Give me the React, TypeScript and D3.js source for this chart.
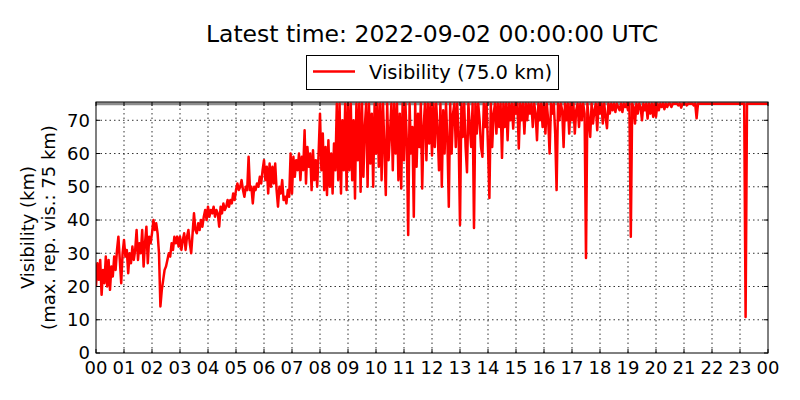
import { useEffect, useRef } from 'react';
import * as d3 from 'd3';

const titleText = 'Latest time: 2022-09-02 00:00:00 UTC';
const legendText = 'Visibility (75.0 km)';
const yLabelLines = ['Visibility (km)', '(max. rep. vis.: 75 km)'];
const hourLabels = [
  '00', '01', '02', '03', '04', '05', '06', '07', '08', '09', '10', '11',
  '12', '13', '14', '15', '16', '17', '18', '19', '20', '21', '22', '23', '00',
];
const yTicks = [0, 10, 20, 30, 40, 50, 60, 70];
const maxVis = 75;
const stepHours = 0.05;

// one value every 3 minutes, one row per hour
const visibility = [
  20, 27, 22, 28, 17.5, 25, 21, 29, 20, 28, 19, 26, 23, 29, 25, 31, 35, 28, 21, 30,
  34, 29, 31, 24, 30, 27, 32, 28, 31, 37, 28, 33, 30, 37, 26, 33, 38, 27, 35, 33,
  36, 40, 37, 39, 36, 30, 14, 19, 22, 25, 26, 28, 30, 29, 33, 31, 35, 33, 35, 32,
  35, 31, 34, 36, 31, 35, 37, 33, 30, 36, 42, 37, 36, 39, 37, 40, 38, 41, 43, 40,
  44, 41, 43, 42, 44, 41, 43, 42, 38, 44, 42, 45, 43, 44, 46, 44, 46, 45, 48, 46,
  49, 51, 49, 50, 52, 49, 47, 50, 49, 59, 49, 50, 45, 50, 49, 51, 50, 53, 51, 55,
  58, 52, 56, 48, 57, 50, 56, 51, 57, 49, 44, 50, 48, 52, 46, 47, 45, 49, 47, 60,
  48, 59, 53, 58, 55, 60, 52, 59, 55, 67, 51, 62, 56, 60, 49, 61, 52, 58, 50, 60,
  72, 55, 66, 49, 62, 47.5, 64, 50, 60, 48, 63, 55, 75, 52, 75, 48, 70, 55, 75, 49,
  75, 55, 75, 52, 70, 46.5, 75, 58, 75, 48.5, 75, 53, 68, 75, 50, 75, 57, 72, 50, 75,
  60, 75, 56, 75, 52, 75, 62, 47.5, 75, 58, 66, 75, 55, 75, 60, 75, 52, 72, 49.5, 75,
  58, 75, 64, 35.5, 75, 60, 68, 41, 75, 56, 72, 62, 75, 49.5, 68, 75, 58, 75, 63, 75,
  59.4, 75, 62, 75, 67, 55, 75, 50, 73, 60, 75, 64, 44, 75, 60, 72, 75, 62, 75, 66,
  38.5, 75, 65, 75, 62, 54.4, 75, 68, 62, 75, 37.6, 75, 66, 75, 70, 62, 59, 75, 68, 75,
  62, 46.6, 75, 62, 72, 75, 66, 75, 68, 75, 58.7, 75, 68, 75, 64, 75, 70, 75, 67.5, 75,
  72, 75, 61.5, 75, 70, 75, 66, 75, 70, 75, 72, 75, 68, 75, 72, 64, 75, 70, 75, 68,
  75, 66, 75, 70, 60, 75, 72, 75, 66, 49, 75, 70, 75, 73, 62, 75, 70, 75, 66, 75,
  70, 75, 66, 73, 75, 68, 75, 70, 75, 72, 28.6, 75, 70, 65, 75, 69, 73, 75, 67, 75,
  72, 75, 69, 75, 71, 67.6, 75, 72, 75, 73, 75, 72.5, 75, 74, 73, 75, 72.5, 75, 74, 75,
  73, 75, 35, 75, 74, 69, 75, 72, 75, 74, 70, 75, 73, 75, 70.5, 75, 72, 75, 71, 75,
  71, 75, 73, 75, 74, 75, 73.3, 75, 74, 75, 75, 74, 75, 75, 75, 75, 74.5, 75, 73.8, 75,
  75, 75, 74.5, 75, 75, 75, 75, 74.5, 75, 70.6, 75, 75, 75, 75, 75, 75, 75, 75, 75, 75,
  75, 75, 75, 75, 75, 75, 75, 75, 75, 75, 75, 75, 75, 75, 75, 75, 75, 75, 75, 75,
  75, 75, 75, 75, 10.8, 75, 75, 75, 75, 75, 75, 75, 75, 75, 75, 75, 75, 75, 75, 75,
  75,
];

const VisibilityChart = () => {
  const chartRef = useRef<SVGSVGElement>(null);

  useEffect(() => {
    if (!chartRef.current) return;

    d3.select(chartRef.current).selectAll('*').remove();

    const width = 800;
    const height = 400;
    const margin = { top: 102, right: 32, bottom: 47, left: 96 };
    const font = '"DejaVu Sans", sans-serif';

    const svg = d3
      .select(chartRef.current)
      .attr('width', width)
      .attr('height', height)
      .style('font-family', font);

    svg.append('rect').attr('width', width).attr('height', height).attr('fill', '#fff');

    const x = d3
      .scaleLinear()
      .domain([0, hourLabels.length - 1])
      .range([margin.left, width - margin.right]);

    const y = d3
      .scaleLinear()
      .domain([0, 75.5])
      .range([height - margin.bottom, margin.top]);

    const [x0, x1] = x.range();
    const [y0, y1] = y.range();

    // Grid
    const grid = svg
      .append('g')
      .attr('stroke', '#333')
      .attr('stroke-width', 1)
      .attr('stroke-dasharray', '1.5,3');
    hourLabels.forEach((_, i) => {
      if (i === 0 || i === hourLabels.length - 1) return;
      grid.append('line').attr('x1', x(i)).attr('x2', x(i)).attr('y1', y0).attr('y2', y1);
    });
    yTicks.forEach((t) => {
      if (t === 0) return;
      grid.append('line').attr('x1', x0).attr('x2', x1).attr('y1', y(t)).attr('y2', y(t));
    });

    // Clip
    svg
      .append('clipPath')
      .attr('id', 'plot-clip')
      .append('rect')
      .attr('x', x0)
      .attr('y', y1)
      .attr('width', x1 - x0)
      .attr('height', y0 - y1);

    const plot = svg.append('g').attr('clip-path', 'url(#plot-clip)');

    // max reported visibility line
    plot
      .append('line')
      .attr('x1', x0)
      .attr('x2', x1)
      .attr('y1', y(maxVis))
      .attr('y2', y(maxVis))
      .attr('stroke', '#8c8c8c')
      .attr('stroke-width', 3);

    const line = d3
      .line<number>()
      .x((_, i) => x(i * stepHours))
      .y((d) => y(d));

    plot
      .append('path')
      .datum(visibility)
      .attr('fill', 'none')
      .attr('stroke', '#ff0000')
      .attr('stroke-width', 2.5)
      .attr('stroke-linejoin', 'round')
      .attr('d', line);

    // Frame
    svg
      .append('rect')
      .attr('x', x0)
      .attr('y', y1)
      .attr('width', x1 - x0)
      .attr('height', y0 - y1)
      .attr('fill', 'none')
      .attr('stroke', '#000')
      .attr('stroke-width', 1);

    // Ticks (inside, all sides)
    const ticks = svg.append('g').attr('stroke', '#000').attr('stroke-width', 1);
    hourLabels.forEach((_, i) => {
      ticks.append('line').attr('x1', x(i)).attr('x2', x(i)).attr('y1', y0).attr('y2', y0 - 4);
      ticks.append('line').attr('x1', x(i)).attr('x2', x(i)).attr('y1', y1).attr('y2', y1 + 4);
    });
    yTicks.forEach((t) => {
      ticks.append('line').attr('x1', x0).attr('x2', x0 + 4).attr('y1', y(t)).attr('y2', y(t));
      ticks.append('line').attr('x1', x1).attr('x2', x1 - 4).attr('y1', y(t)).attr('y2', y(t));
    });

    // Tick labels
    svg
      .append('g')
      .selectAll('text')
      .data(hourLabels)
      .join('text')
      .attr('x', (_, i) => x(i))
      .attr('y', y0 + 21)
      .attr('text-anchor', 'middle')
      .attr('font-size', 18)
      .text((d) => d);

    svg
      .append('g')
      .selectAll('text')
      .data(yTicks)
      .join('text')
      .attr('x', x0 - 6)
      .attr('y', (d) => y(d))
      .attr('dy', '0.36em')
      .attr('text-anchor', 'end')
      .attr('font-size', 18)
      .text((d) => d);

    // Y label
    const cy = (y0 + y1) / 2;
    yLabelLines.forEach((txt, i) => {
      svg
        .append('text')
        .attr('transform', `translate(${34 + i * 21},${cy}) rotate(-90)`)
        .attr('text-anchor', 'middle')
        .attr('font-size', 18)
        .text(txt);
    });

    // Title
    svg
      .append('text')
      .attr('x', (x0 + x1) / 2)
      .attr('y', 42)
      .attr('text-anchor', 'middle')
      .attr('font-size', 23.5)
      .text(titleText);

    // Legend
    const legend = svg.append('g');
    legend
      .append('rect')
      .attr('x', 306.5)
      .attr('y', 55.5)
      .attr('width', 252)
      .attr('height', 34)
      .attr('fill', '#fff')
      .attr('stroke', '#000')
      .attr('stroke-width', 1);
    legend
      .append('line')
      .attr('x1', 313)
      .attr('x2', 355)
      .attr('y1', 71.5)
      .attr('y2', 71.5)
      .attr('stroke', '#ff0000')
      .attr('stroke-width', 2.5);
    legend
      .append('text')
      .attr('x', 369)
      .attr('y', 78.5)
      .attr('font-size', 19.5)
      .text(legendText);
  }, []);

  return (
    <div style={{ position: 'absolute', left: 0, top: 0 }}>
      <svg ref={chartRef} style={{ display: 'block' }} />
    </div>
  );
};

export default VisibilityChart;
